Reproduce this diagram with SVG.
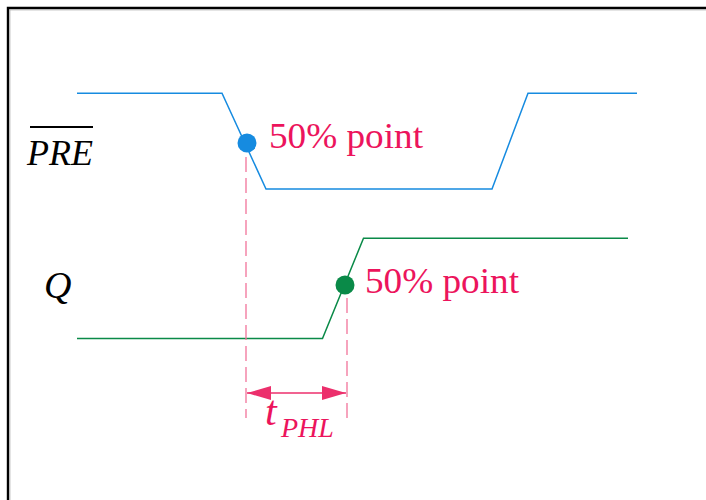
<svg xmlns="http://www.w3.org/2000/svg" width="706" height="500" viewBox="0 0 706 500">
<defs>
<style>
.sig{fill:none;stroke-width:1.5;stroke-linejoin:miter}
.lbl{font-family:"Liberation Serif","Times New Roman",serif;fill:#ec145c}
.it{font-family:"Liberation Serif","Times New Roman",serif;font-style:italic}
.dash{stroke:#f1739a;stroke-width:1.3;stroke-dasharray:15 6;fill:none}
</style>
<marker id="ah" viewBox="0 0 24 14" refX="24" refY="7" markerWidth="24" markerHeight="14" markerUnits="userSpaceOnUse" orient="auto-start-reverse">
<path d="M0,0 L24,7 L0,14 Z" fill="#ec2f6c"/>
</marker>
</defs>
<rect width="706" height="500" fill="#fff"/>
<g id="frame">
<path d="M8,500 V8 H706" fill="none" stroke="#000" stroke-width="2.4"/>
<path d="M9.9,500 V9.9 H706" fill="none" stroke="#aaa" stroke-width="0.8"/>
</g>
<g id="pre">
<path class="sig" stroke="#168be0" d="M77,93.3 H222 L266,189 H492 L528,93.3 H637"/>
<circle cx="247" cy="143" r="9.5" fill="#168be0"/>
<text class="it" x="27" y="165" font-size="36" fill="#000">PRE</text>
<line x1="30" y1="127" x2="93" y2="127" stroke="#000" stroke-width="2"/>
<text class="lbl" x="269" y="148" font-size="35" textLength="154" lengthAdjust="spacingAndGlyphs">50% point</text>
</g>
<g id="q">
<path class="sig" stroke="#0a8a48" d="M77,338.5 H322.5 L363.5,238.3 H628"/>
<circle cx="345" cy="285" r="9.5" fill="#0a8a48"/>
<text class="it" x="44" y="298" font-size="38" fill="#000">Q</text>
<text class="lbl" x="365" y="293" font-size="35" textLength="154" lengthAdjust="spacingAndGlyphs">50% point</text>
</g>
<g id="connectors">
<line class="dash" x1="246" y1="157" x2="246" y2="418"/>
<line class="dash" x1="347" y1="298" x2="347" y2="418"/>
<line x1="247" y1="393" x2="346" y2="393" stroke="#ec2f6c" stroke-width="1.5" marker-start="url(#ah)" marker-end="url(#ah)"/>
</g>
<g id="tphl">
<text class="it" x="265" y="425" font-size="42" fill="#ec145c">t</text>
<text class="it" x="281" y="437" font-size="28" fill="#ec145c">PHL</text>
</g>
</svg>
